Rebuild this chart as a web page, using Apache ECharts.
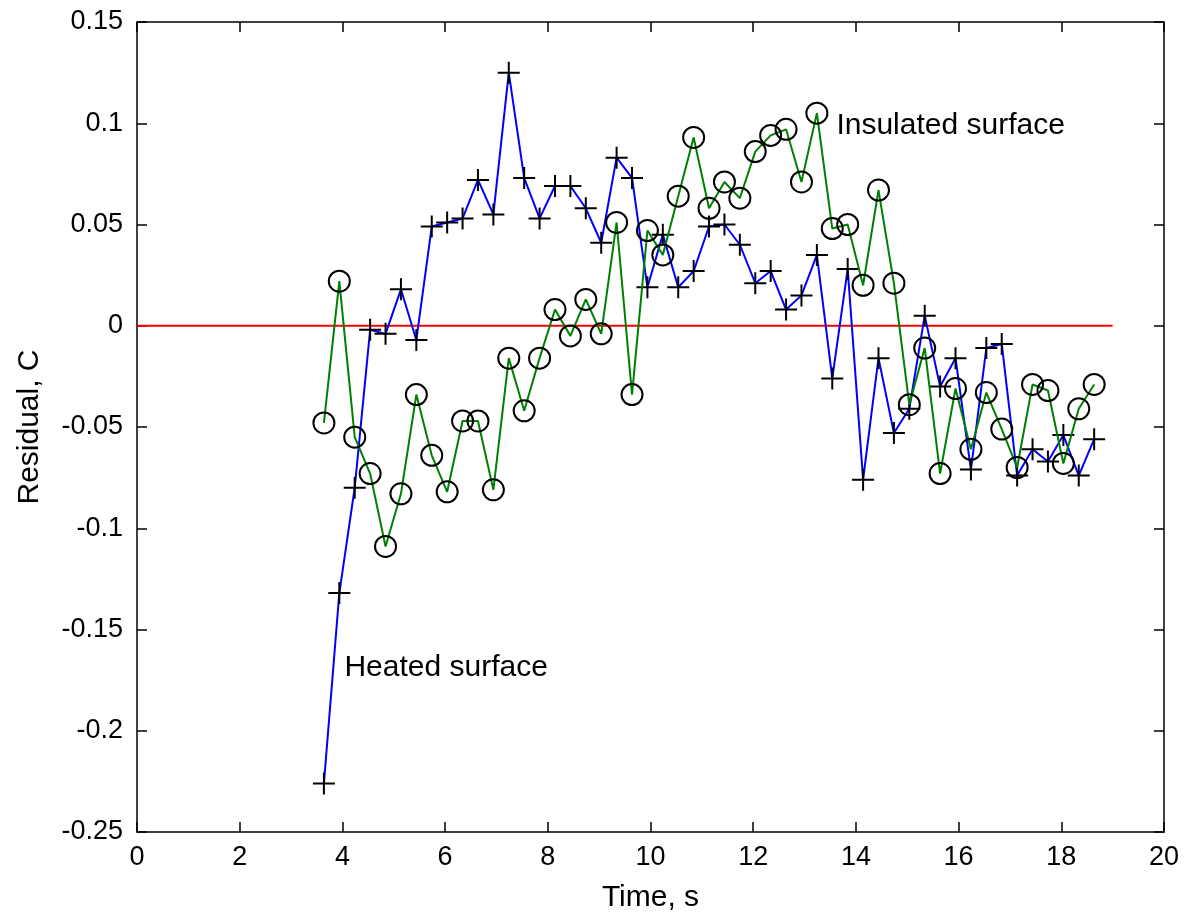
<!DOCTYPE html>
<html>
<head>
<meta charset="utf-8">
<script src="https://cdn.jsdelivr.net/npm/echarts@6/dist/echarts.min.js"></script>
<style>
  html, body { margin: 0; padding: 0; background: #fff; }
  #chart { width: 1184px; height: 918px; }
</style>
</head>
<body>
<div id="chart"></div>
<script>
// sample times (s)
var times = [3.64, 3.94, 4.24, 4.54, 4.84, 5.14, 5.44, 5.74, 6.04, 6.34,
             6.64, 6.94, 7.24, 7.54, 7.84, 8.14, 8.44, 8.74, 9.04, 9.34,
             9.64, 9.94, 10.24, 10.54, 10.84, 11.14, 11.44, 11.74, 12.04, 12.34,
             12.64, 12.94, 13.24, 13.54, 13.84, 14.14, 14.44, 14.74, 15.04, 15.34,
             15.64, 15.94, 16.24, 16.54, 16.84, 17.14, 17.44, 17.74, 18.04, 18.34,
             18.64];

// heated surface residuals (+ markers, blue line)
var heated = [-0.226, -0.132, -0.080, -0.002, -0.004, 0.018, -0.007, 0.049, 0.051, 0.053,
              0.072, 0.055, 0.125, 0.073, 0.053, 0.069, 0.069, 0.058, 0.041, 0.083,
              0.073, 0.019, 0.045, 0.019, 0.027, 0.049, 0.050, 0.040, 0.021, 0.027,
              0.008, 0.015, 0.035, -0.026, 0.028, -0.076, -0.016, -0.053, -0.041, 0.005,
              -0.030, -0.016, -0.071, -0.011, -0.009, -0.074, -0.061, -0.067, -0.054, -0.074,
              -0.056];

// insulated surface residuals (o markers, green line)
var insulated = [-0.048, 0.022, -0.055, -0.073, -0.109, -0.083, -0.034, -0.064, -0.082, -0.047,
                 -0.047, -0.081, -0.016, -0.042, -0.016, 0.008, -0.005, 0.013, -0.004, 0.051,
                 -0.034, 0.047, 0.035, 0.064, 0.093, 0.058, 0.071, 0.063, 0.086, 0.094,
                 0.097, 0.071, 0.105, 0.048, 0.050, 0.020, 0.067, 0.021, -0.039, -0.011,
                 -0.073, -0.031, -0.061, -0.033, -0.051, -0.070, -0.029, -0.032, -0.068, -0.041,
                 -0.029];

var zeroLine = [[0, 0], [19, 0]];

var labels = [
    { text: 'Heated surface', at: [4.04, -0.169] },
    { text: 'Insulated surface', at: [13.62, 0.099] }
];

function pairs(xs, ys) {
    return xs.map(function (x, i) { return [x, ys[i]]; });
}

var chart = echarts.init(document.getElementById('chart'));

var font = 'Arial, "Liberation Sans", sans-serif';
var plusPath = 'path://M10,0L10,20M0,10L20,10';

var baseAxis = {
    type: 'value',
    axisLine: { show: true, onZero: false, lineStyle: { color: '#000', width: 1.5 } },
    axisTick: { show: true, inside: true, length: 10, lineStyle: { color: '#000', width: 1.5 } },
    splitLine: { show: false }
};

var option = {
    animation: false,
    backgroundColor: '#fff',
    grid: { left: 137, right: 20, top: 22, bottom: 86 },
    xAxis: [
        Object.assign({}, baseAxis, {
            position: 'bottom', min: 0, max: 20, interval: 2,
            name: 'Time, s', nameLocation: 'middle', nameGap: 51,
            nameTextStyle: { color: '#000', fontSize: 30, fontFamily: font },
            axisLabel: { color: '#000', fontSize: 27, fontFamily: font, margin: 12 }
        }),
        Object.assign({}, baseAxis, {
            position: 'top', min: 0, max: 20, interval: 2,
            axisLabel: { show: false }
        })
    ],
    yAxis: [
        Object.assign({}, baseAxis, {
            position: 'left', min: -0.25, max: 0.15, interval: 0.05,
            name: 'Residual, C', nameLocation: 'middle', nameGap: 92,
            nameTextStyle: { color: '#000', fontSize: 30, fontFamily: font },
            axisLabel: {
                color: '#000', fontSize: 27, fontFamily: font, margin: 14,
                formatter: function (v) { return String(Math.round(v * 100) / 100); }
            }
        }),
        Object.assign({}, baseAxis, {
            position: 'right', min: -0.25, max: 0.15, interval: 0.05,
            axisLabel: { show: false }
        })
    ],
    series: [
        {
            type: 'line',
            data: zeroLine,
            symbol: 'none',
            lineStyle: { color: '#ff0000', width: 2 },
            z: 1
        },
        {
            type: 'line',
            data: pairs(times, insulated),
            symbol: 'circle',
            symbolSize: 21,
            itemStyle: { color: 'none', borderColor: '#000', borderWidth: 2 },
            lineStyle: { color: '#008000', width: 2 },
            z: 3
        },
        {
            type: 'line',
            data: pairs(times, heated),
            symbol: plusPath,
            symbolSize: 22,
            symbolKeepAspect: true,
            itemStyle: { color: 'none', borderColor: '#000', borderWidth: 2 },
            lineStyle: { color: '#0000ff', width: 2 },
            z: 2
        }
    ]
};

chart.setOption(option);

chart.setOption({
    graphic: labels.map(function (l) {
        var p = chart.convertToPixel({ xAxisIndex: 0, yAxisIndex: 0 }, l.at);
        return {
            type: 'text',
            x: p[0], y: p[1],
            style: {
                text: l.text, fill: '#000', fontSize: 30, fontFamily: font,
                verticalAlign: 'middle', align: 'left'
            },
            z: 10
        };
    })
});
</script>
</body>
</html>
